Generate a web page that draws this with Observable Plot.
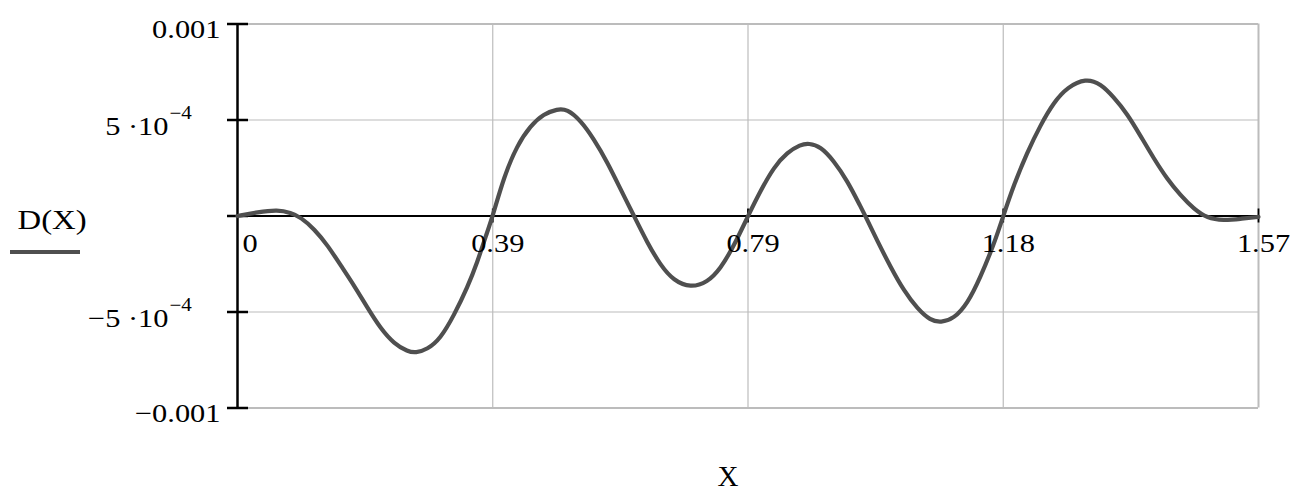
<!DOCTYPE html>
<html><head><meta charset="utf-8">
<script src="https://cdn.jsdelivr.net/npm/d3@7"></script>
<script src="https://cdn.jsdelivr.net/npm/@observablehq/plot@0.6"></script>
<style>body{margin:0;background:#fff;}</style>
</head><body><div id="chart"></div>
<script>
// ---- data ----
const xValues = [0, 0.031, 0.062, 0.082, 0.097, 0.118, 0.139, 0.159, 0.180, 0.200, 0.220, 0.241, 0.262, 0.274, 0.292, 0.312, 0.333, 0.354, 0.369, 0.382, 0.3927, 0.410, 0.430, 0.451, 0.471, 0.492, 0.507, 0.528, 0.548, 0.569, 0.589, 0.610, 0.630, 0.651, 0.671, 0.697, 0.723, 0.743, 0.764, 0.7854, 0.805, 0.825, 0.846, 0.866, 0.879, 0.897, 0.917, 0.938, 0.959, 0.966, 0.984, 1.005, 1.025, 1.046, 1.066, 1.082, 1.102, 1.123, 1.143, 1.164, 1.1781, 1.194, 1.215, 1.235, 1.256, 1.277, 1.305, 1.328, 1.348, 1.369, 1.389, 1.410, 1.430, 1.451, 1.471, 1.492, 1.517, 1.543, 1.5708];
const dValues = [0, 0.20e-4, 0.32e-4, 0.17e-4, -0.06e-4, -0.67e-4, -1.54e-4, -2.58e-4, -3.65e-4, -4.78e-4, -5.85e-4, -6.66e-4, -7.06e-4, -7.13e-4, -6.95e-4, -6.40e-4, -5.18e-4, -3.70e-4, -2.40e-4, -1.05e-4, 0, 2.05e-4, 3.67e-4, 4.71e-4, 5.32e-4, 5.57e-4, 5.57e-4, 4.97e-4, 4.02e-4, 2.80e-4, 1.42e-4, 0, -1.36e-4, -2.58e-4, -3.36e-4, -3.74e-4, -3.45e-4, -2.75e-4, -1.54e-4, 0, 1.33e-4, 2.54e-4, 3.32e-4, 3.72e-4, 3.79e-4, 3.62e-4, 2.89e-4, 1.85e-4, 0.46e-4, 0, -1.28e-4, -2.67e-4, -3.88e-4, -4.83e-4, -5.44e-4, -5.55e-4, -5.35e-4, -4.57e-4, -3.19e-4, -1.45e-4, 0, 1.59e-4, 3.32e-4, 4.71e-4, 5.93e-4, 6.71e-4, 7.17e-4, 6.89e-4, 6.19e-4, 5.32e-4, 4.19e-4, 2.98e-4, 1.94e-4, 1.07e-4, 0.38e-4, -0.12e-4, -0.23e-4, -0.15e-4, -0.05e-4];

const xDomain = [0, 1.5708];
const yDomain = [-0.001, 0.001];
const xInnerGrid = [0.3927, 0.7854, 1.1781];
const xFrameRight = [1.5708];
const yInnerGrid = [-0.0005, 0.0005];
const yFrame = [-0.001, 0.001];
const yAxisTicks = [-0.001, -0.0005, 0, 0.0005, 0.001];
const xAxisTicks = [0.3927, 0.7854, 1.1781, 1.5708];
const xTickPositions = [0, 0.3927, 0.7854, 1.1781, 1.5708];
const xTickLabels = ["0", "0.39", "0.79", "1.18", "1.57"];
const yDecimalTicks = [0.001, -0.001];
const yDecimalLabels = ["0.001", "\u22120.001"];
const yPowerTicks = [0.0005, -0.0005];
const yPowerBase = ["5 \u00B710", "\u22125 \u00B710"];
const yPowerExp = ["\u22124", "\u22124"];
const seriesName = "D(X)";
const xLabel = "X";

const table = xValues.map((x, i) => ({x, d: dValues[i]}));
const gridColor = "#bcbcbc";
const curveColor = "#4f4f4f";

const chart = Plot.plot({
  width: 1296,
  height: 491,
  marginLeft: 237,
  marginRight: 38,
  marginTop: 23.5,
  marginBottom: 83.5,
  x: {domain: xDomain, axis: null},
  y: {domain: yDomain, axis: null},
  style: {fontFamily: "'Liberation Serif', 'Times New Roman', serif", fontSize: "25px", background: "#fff", color: "#000"},
  marks: [
    Plot.ruleX(xInnerGrid, {stroke: gridColor, strokeWidth: 1.2}),
    Plot.ruleY(yInnerGrid, {stroke: gridColor, strokeWidth: 1.2}),
    Plot.ruleX(xFrameRight, {stroke: gridColor, strokeWidth: 2}),
    Plot.ruleY(yFrame, {stroke: gridColor, strokeWidth: 2}),
    Plot.ruleY([0], {stroke: "#000", strokeWidth: 2}),
    Plot.ruleX([0], {stroke: "#000", strokeWidth: 2.5}),
    Plot.ruleY(yAxisTicks, {x1: 0, x2: 0, insetLeft: -10, insetRight: -11, stroke: "#000", strokeWidth: 2.5}),
    Plot.ruleX(xAxisTicks, {y1: 0, y2: 0, insetTop: -7, insetBottom: -7, stroke: "#000", strokeWidth: 1.8}),
    Plot.line(table, {x: "x", y: "d", stroke: curveColor, strokeWidth: 4.2, curve: "basis"}),
    // x tick labels
    Plot.text(xTickLabels.slice(0, 1), {x: xTickPositions.slice(0, 1), y: [0], text: d => d, textAnchor: "start", lineAnchor: "bottom", dx: 5, dy: 36, fontSize: 26}),
    Plot.text(xTickLabels.slice(1), {x: xTickPositions.slice(1), y: [0, 0, 0, 0], text: d => d, textAnchor: "middle", lineAnchor: "bottom", dx: 5, dy: 36, fontSize: 26}),
    // y tick labels
    Plot.text(yDecimalTicks, {x: 0, y: d => d, text: (d, i) => yDecimalLabels[i], textAnchor: "end", lineAnchor: "bottom", dx: -17, dy: 14, fontSize: 26}),
    Plot.text(yPowerTicks, {x: 0, y: d => d, text: (d, i) => yPowerBase[i], textAnchor: "end", lineAnchor: "bottom", dx: -69, dy: 14.5, fontSize: 26}),
    Plot.text(yPowerTicks, {x: 0, y: d => d, text: (d, i) => yPowerExp[i], textAnchor: "start", lineAnchor: "bottom", dx: -68, dy: -1, fontSize: 18}),
    // legend label and axis label
    Plot.text([seriesName], {frameAnchor: "left", text: d => d, textAnchor: "start", lineAnchor: "bottom", dx: -220, dy: 12.5, fontSize: 28}),
    Plot.text([xLabel], {frameAnchor: "bottom", text: d => d, textAnchor: "middle", lineAnchor: "bottom", dx: -20, dy: 78, fontSize: 29})
  ]
});

// horizontal stretch of the Mathcad lettering (tick labels and legend name)
chart.querySelectorAll("text").forEach(t => {
  if (t.textContent === xLabel) return;
  const tr = t.getAttribute("transform");
  if (tr) t.setAttribute("transform", tr + " scale(1.17,1)");
});
// legend swatch under the series name
d3.select(chart).append("line")
  .attr("x1", 10).attr("x2", 80).attr("y1", 252).attr("y2", 252)
  .attr("stroke", curveColor).attr("stroke-width", 4);

document.getElementById("chart").appendChild(chart);
</script>
</body></html>
